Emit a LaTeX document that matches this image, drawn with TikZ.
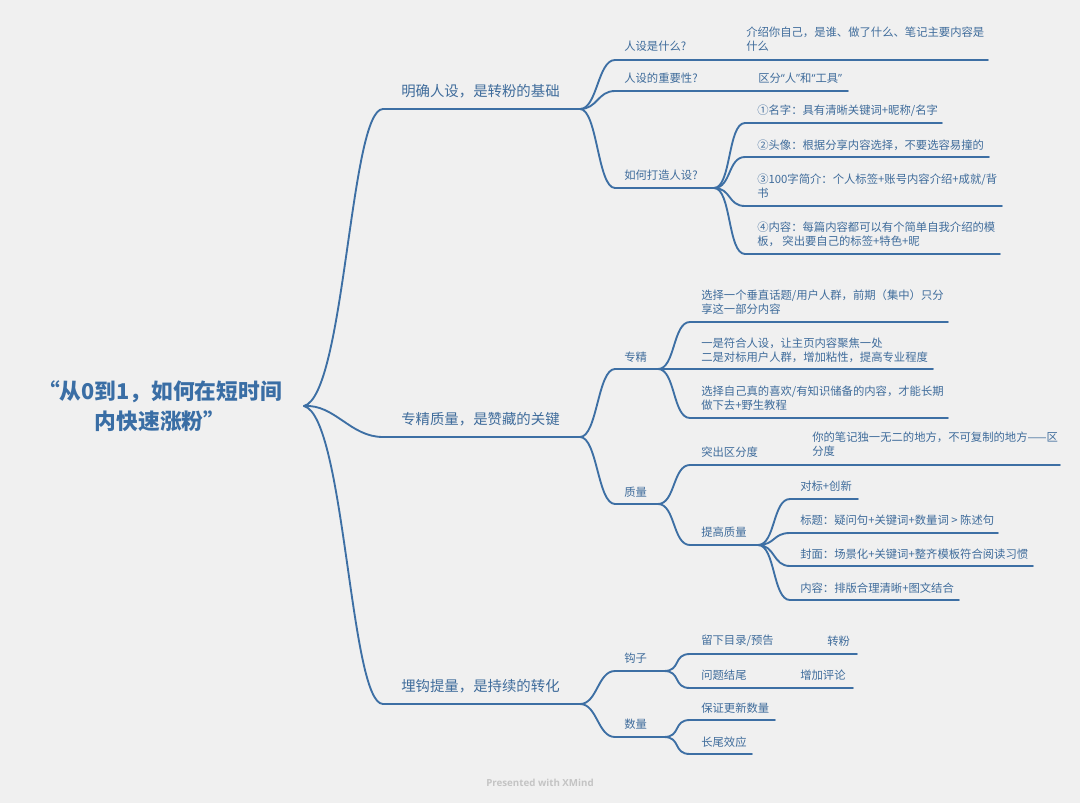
\documentclass[tikz,border=0pt]{standalone}
\usepackage{fontspec}
\newfontfamily\cjk{Noto Sans CJK SC}
\newfontfamily\footfont{Open Sans}
\definecolor{bgc}{HTML}{F0F0F0}
\definecolor{lc}{HTML}{3D6FA4}
\definecolor{tc}{HTML}{3F6C9B}
\definecolor{rc}{HTML}{3A6EA5}
\definecolor{footc}{HTML}{C4C4C4}
\newcommand{\myLq}{{\footfont “}}
\newcommand{\myRq}{{\footfont ”}}
\begin{document}
\begin{tikzpicture}[x=0.75pt,y=-0.75pt,
  ln/.style={draw=lc,line width=1.4pt,line cap=round},
  cv/.style={out=0,in=180,distance=13pt},
  rootbox/.style={inner sep=0,text=rc,align=center,font=\cjk\bfseries\fontsize{16.3}{22.5}\selectfont},
  t1/.style={anchor=west,inner sep=0,text=tc,font=\cjk\fontsize{10.8}{13}\selectfont},
  t2/.style={anchor=west,inner sep=0,text=tc,align=left,font=\cjk\fontsize{8.5}{10.6}\selectfont}]
\fill[bgc] (0,0) rectangle (1080,803);
\useasboundingbox (0,0) rectangle (1080,803);

% root
\node[rootbox] (root) at (160,406) {“从0到1，如何在短时间\\内快速涨粉”};
\coordinate (R) at (304,406);

% level 1
\coordinate (b1s) at (383,109); \coordinate (b1e) at (580,109);
\coordinate (b2s) at (383,437); \coordinate (b2e) at (580,437);
\coordinate (b3s) at (383,704); \coordinate (b3e) at (580,704);
\node[t1] (b1) at (401,91) {明确人设，是转粉的基础};
\node[t1] (b2) at (401,419) {专精质量，是赞藏的关键};
\node[t1] (b3) at (401,686) {埋钩提量，是持续的转化};
\draw[ln] (R) .. controls (345,395) and (350,109) .. (b1s) -- (b1e);
\draw[ln] (R) .. controls (335,404) and (350,437) .. (b2s) -- (b2e);
\draw[ln] (R) .. controls (345,417) and (350,704) .. (b3s) -- (b3e);

% branch 1
\coordinate (c11s) at (615,60);  \coordinate (c11e) at (735,60);
\coordinate (c11ae) at (988,60);
\node[t2] (c11) at (624,46) {人设是什么?};
\node[t2] (c11a) at (746,39) {介绍你自己，是谁、做了什么、笔记主要内容是\\什么};
\draw[ln] (b1e) to[cv] (c11s) -- (c11e) -- (c11ae);

\coordinate (c12s) at (615,91);  \coordinate (c12e) at (745,91);
\coordinate (c12ae) at (848,91);
\node[t2] (c12) at (624,78) {人设的重要性?};
\node[t2] (c12a) at (758,78) {区分\myLq 人\myRq 和\myLq 工具\myRq};
\draw[ln] (b1e) to[cv] (c12s) -- (c12e) -- (c12ae);

\coordinate (c13s) at (615,188); \coordinate (c13e) at (714,188);
\node[t2] (c13) at (624,175) {如何打造人设?};
\draw[ln] (b1e) to[cv] (c13s) -- (c13e);

\coordinate (c131s) at (745,123); \coordinate (c131e) at (942,123);
\coordinate (c132s) at (745,157); \coordinate (c132e) at (989,157);
\coordinate (c133s) at (745,206); \coordinate (c133e) at (1002,206);
\coordinate (c134s) at (745,254); \coordinate (c134e) at (1000,254);
\node[t2] (c131) at (757,111) {①名字：具有清晰关键词+昵称/名字};
\node[t2] (c132) at (757,145) {②头像：根据分享内容选择，不要选容易撞的};
\node[t2] (c133) at (757,186) {③100字简介：个人标签+账号内容介绍+成就/背\\书};
\node[t2] (c134) at (757,234) {④内容：每篇内容都可以有个简单自我介绍的模\\板， 突出要自己的标签+特色+昵};
\foreach \k in {131,132,133,134} {\draw[ln] (c13e) to[cv] (c\k s) -- (c\k e);}

% branch 2
\coordinate (c21s) at (615,369); \coordinate (c21e) at (658,369);
\node[t2] (c21) at (624,357) {专精};
\draw[ln] (b2e) to[cv] (c21s) -- (c21e);
\coordinate (c211s) at (690,322); \coordinate (c211e) at (948,322);
\coordinate (c212s) at (690,369); \coordinate (c212e) at (933,369);
\coordinate (c213s) at (690,418); \coordinate (c213e) at (948,418);
\node[t2] (c211) at (701,302) {选择一个垂直话题/用户人群，前期（集中）只分\\享这一部分内容};
\node[t2] (c212) at (701,350) {一是符合人设，让主页内容聚焦一处\\二是对标用户人群，增加粘性，提高专业程度};
\node[t2] (c213) at (701,398) {选择自己真的喜欢/有知识储备的内容，才能长期\\做下去+野生教程};
\foreach \k in {211,212,213} {\draw[ln] (c21e) to[cv] (c\k s) -- (c\k e);}

\coordinate (c22s) at (615,504); \coordinate (c22e) at (658,504);
\node[t2] (c22) at (624,492) {质量};
\draw[ln] (b2e) to[cv] (c22s) -- (c22e);

\coordinate (c221s) at (690,465); \coordinate (c221e) at (800,465);
\coordinate (c221ae) at (1060,465);
\node[t2] (c221) at (701,452) {突出区分度};
\node[t2] (c221a) at (812,444) {你的笔记独一无二的地方，不可复制的地方——区\\分度};
\draw[ln] (c22e) to[cv] (c221s) -- (c221e) -- (c221ae);

\coordinate (c222s) at (690,545); \coordinate (c222e) at (758,545);
\node[t2] (c222) at (701,532) {提高质量};
\draw[ln] (c22e) to[cv] (c222s) -- (c222e);

\coordinate (c2221s) at (790,499); \coordinate (c2221e) at (858,499);
\coordinate (c2222s) at (790,533); \coordinate (c2222e) at (998,533);
\coordinate (c2223s) at (790,566); \coordinate (c2223e) at (1033,566);
\coordinate (c2224s) at (790,600); \coordinate (c2224e) at (959,600);
\node[t2] (c2221) at (800,486) {对标+创新};
\node[t2] (c2222) at (800,520) {标题：疑问句+关键词+数量词 > 陈述句};
\node[t2] (c2223) at (800,554) {封面：场景化+关键词+整齐模板符合阅读习惯};
\node[t2] (c2224) at (800,588) {内容：排版合理清晰+图文结合};
\foreach \k in {2221,2222,2223,2224} {\draw[ln] (c222e) to[cv] (c\k s) -- (c\k e);}

% branch 3
\coordinate (c31s) at (615,671); \coordinate (c31e) at (664,671);
\node[t2] (c31) at (624,658) {钩子};
\draw[ln] (b3e) to[cv] (c31s) -- (c31e);
\coordinate (c311s) at (690,654); \coordinate (c311e) at (790,654);
\coordinate (c311ae) at (857,654);
\node[t2] (c311) at (701,641) {留下目录/预告};
\node[t2] (c311a) at (827,641) {转粉};
\draw[ln] (c31e) to[cv] (c311s) -- (c311e) -- (c311ae);
\coordinate (c312s) at (690,688); \coordinate (c312e) at (780,688);
\coordinate (c312ae) at (853,688);
\node[t2] (c312) at (701,675) {问题结尾};
\node[t2] (c312a) at (800,675) {增加评论};
\draw[ln] (c31e) to[cv] (c312s) -- (c312e) -- (c312ae);

\coordinate (c32s) at (615,737); \coordinate (c32e) at (664,737);
\node[t2] (c32) at (624,724) {数量};
\draw[ln] (b3e) to[cv] (c32s) -- (c32e);
\coordinate (c321s) at (690,720); \coordinate (c321e) at (775,720);
\coordinate (c322s) at (690,754); \coordinate (c322e) at (752,754);
\node[t2] (c321) at (701,708) {保证更新数量};
\node[t2] (c322) at (701,742) {长尾效应};
\foreach \k in {321,322} {\draw[ln] (c32e) to[cv] (c\k s) -- (c\k e);}

% footer
\node[inner sep=0,text=footc,font=\footfont\bfseries\fontsize{7.3}{8}\selectfont] (foot) at (540,783) {Presented with XMind};
\end{tikzpicture}
\end{document}
